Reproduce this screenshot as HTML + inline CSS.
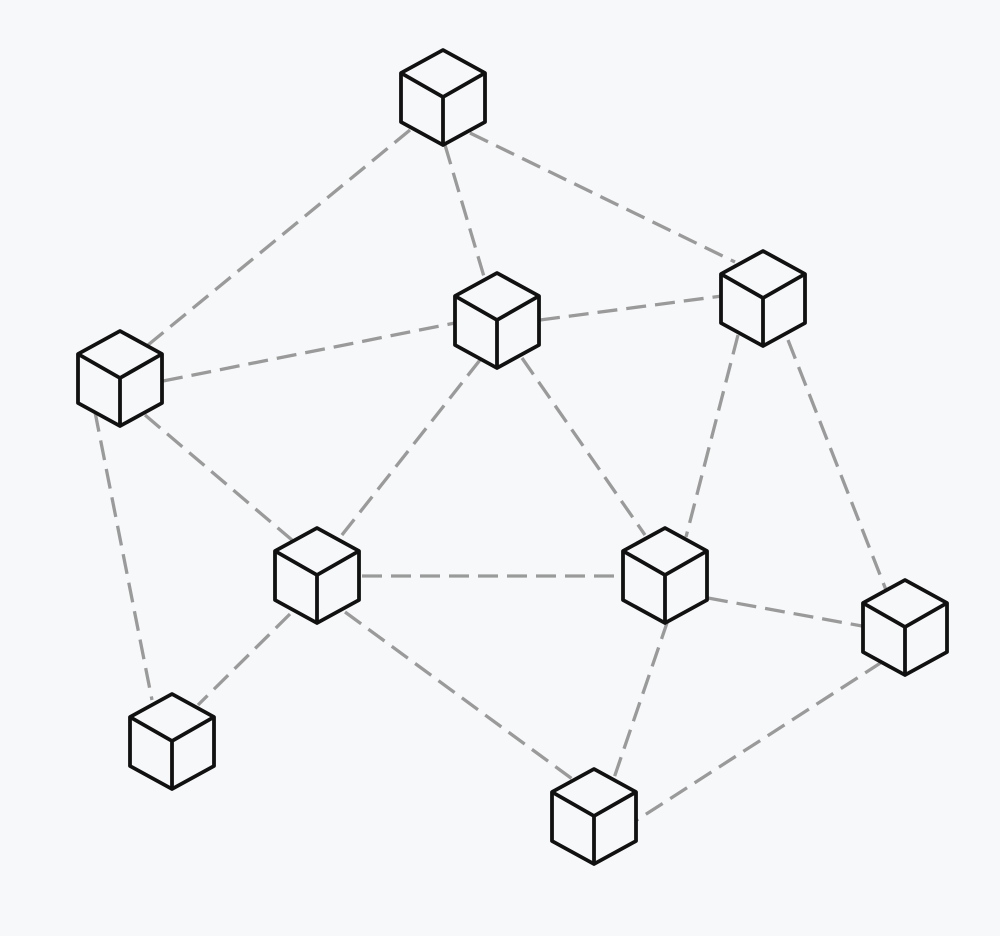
<!DOCTYPE html>
<html><head><style>html,body{margin:0;padding:0;background:#f7f8fa}</style></head><body>
<svg width="1000" height="931" viewBox="0 0 1000 931" xmlns="http://www.w3.org/2000/svg">
<rect width="1000" height="931" fill="#f7f8fa"/>
<g stroke="#9a9a9a" stroke-width="3.3" stroke-dasharray="20 9" fill="none">
<line x1="410" y1="130" x2="148" y2="345"/>
<line x1="445" y1="145" x2="485" y2="280"/>
<line x1="470" y1="133" x2="735" y2="262"/>
<line x1="163" y1="381" x2="455" y2="323"/>
<line x1="540" y1="320" x2="722" y2="296"/>
<line x1="145" y1="415" x2="292" y2="540"/>
<line x1="95" y1="412" x2="152" y2="700"/>
<line x1="480" y1="360" x2="338" y2="540"/>
<line x1="522" y1="358" x2="645" y2="535"/>
<line x1="738" y1="335" x2="686" y2="537"/>
<line x1="788" y1="340" x2="886" y2="590"/>
<line x1="362" y1="576" x2="622" y2="576"/>
<line x1="290" y1="614" x2="198" y2="705"/>
<line x1="345" y1="612" x2="575" y2="781"/>
<line x1="708" y1="598" x2="862" y2="626"/>
<line x1="668" y1="620" x2="614" y2="778"/>
<line x1="882" y1="662" x2="637" y2="820"/>
</g>
<defs>
<g id="c">
<path d="M0,-47 L42,-24 L42,25 L0,48 L-42,25 L-42,-24 Z" fill="#f7f8fa" stroke="#111" stroke-width="3.8" stroke-linejoin="round"/>
<path d="M-42,-24 L0,0 L42,-24 M0,0 L0,48" fill="none" stroke="#111" stroke-width="3.8" stroke-linejoin="round"/>
</g>
</defs>
<use href="#c" x="443" y="97"/>
<use href="#c" x="120" y="378"/>
<use href="#c" x="497" y="320"/>
<use href="#c" x="763" y="298"/>
<use href="#c" x="317" y="575"/>
<use href="#c" x="665" y="575"/>
<use href="#c" x="905" y="627"/>
<use href="#c" x="172" y="741"/>
<use href="#c" x="594" y="816"/>
</svg>
</body></html>
